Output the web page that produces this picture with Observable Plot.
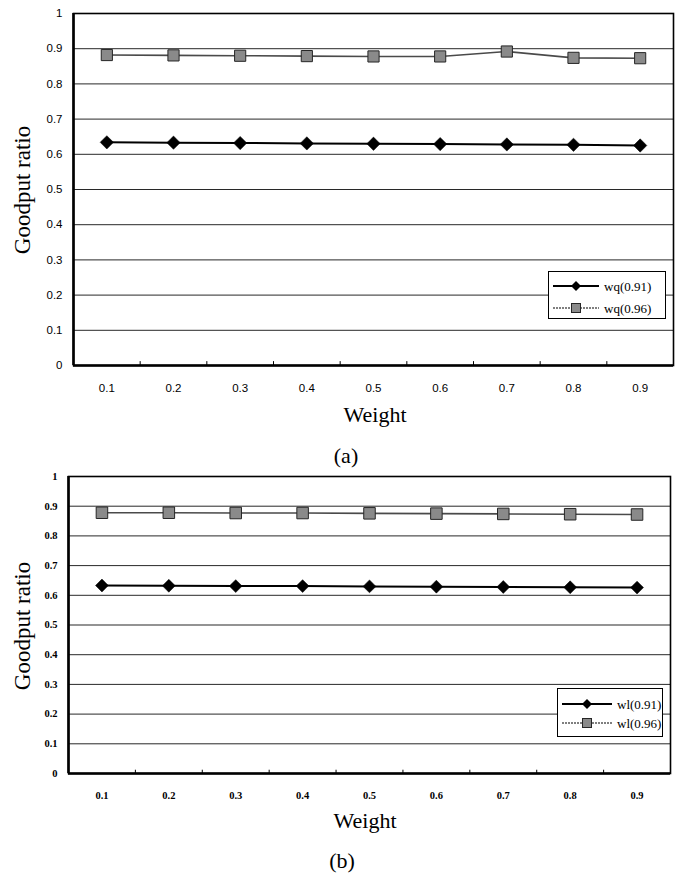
<!DOCTYPE html>
<html>
<head>
<meta charset="utf-8">
<script src="https://cdn.jsdelivr.net/npm/d3@7"></script>
<script src="https://cdn.jsdelivr.net/npm/@observablehq/plot@0.6"></script>
<style>
  body { margin: 0; background: #fff; }
  #page { position: relative; width: 683px; height: 873px; overflow: hidden; background: #fff;
          font-family: "Liberation Serif", "Times New Roman", serif; color: #000; }
  .abs { position: absolute; white-space: nowrap; line-height: 1; font-family: "Liberation Serif", "Times New Roman", serif; }
  .chart { position: absolute; left: 0; }
  .legend { position: absolute; border: 1px solid #000; background: #fff; box-sizing: border-box; }
  .legend .row { position: absolute; left: 0; height: 16px; display: flex; align-items: center; }
  .legend .row span { font-family: "Liberation Serif", serif; font-size: 13px; line-height: 1; }
</style>
</head>
<body>
<div id="page"></div>
<script>
// ---------- data ----------
const weights = [0.1, 0.2, 0.3, 0.4, 0.5, 0.6, 0.7, 0.8, 0.9];
const xTickLabels = ["0.1", "0.2", "0.3", "0.4", "0.5", "0.6", "0.7", "0.8", "0.9"];
const yTicks = [0, 0.1, 0.2, 0.3, 0.4, 0.5, 0.6, 0.7, 0.8, 0.9, 1];
const yTickLabels = ["0", "0.1", "0.2", "0.3", "0.4", "0.5", "0.6", "0.7", "0.8", "0.9", "1"];

const seriesNamesA = ["wq(0.91)", "wq(0.96)"];
const wq091 = [0.634, 0.633, 0.632, 0.631, 0.630, 0.629, 0.628, 0.627, 0.625];
const wq096 = [0.882, 0.881, 0.880, 0.879, 0.878, 0.878, 0.892, 0.874, 0.873];

const seriesNamesB = ["wl(0.91)", "wl(0.96)"];
const wl091 = [0.633, 0.632, 0.631, 0.631, 0.630, 0.629, 0.628, 0.627, 0.626];
const wl096 = [0.878, 0.878, 0.877, 0.877, 0.876, 0.875, 0.874, 0.873, 0.872];

const axisTitleX = "Weight";
const axisTitleY = "Goodput ratio";
const panelCaptions = ["(a)", "(b)"];

// ---------- drawing ----------
const page = document.getElementById("page");

function makeChart(cfg) {
  const step = weights[1] - weights[0];
  const xDomain = [weights[0] - step / 2, weights[weights.length - 1] + step / 2];
  const bounds = weights.slice(1).map((w, i) => (w + weights[i]) / 2);
  const rows1 = weights.map((w, i) => ({w, v: cfg.s1[i]}));
  const rows2 = weights.map((w, i) => ({w, v: cfg.s2[i]}));
  const yLab = d => yTickLabels[Math.round(d * 10)];
  const xLab = d => xTickLabels[Math.round(d * 10) - 1];
  return Plot.plot({
    width: 683,
    height: cfg.height,
    marginTop: cfg.mt, marginBottom: cfg.mb, marginLeft: cfg.ml, marginRight: cfg.mr,
    x: {type: "linear", domain: xDomain, label: null},
    y: {domain: [0, 1], label: null},
    style: {background: "transparent", overflow: "visible"},
    marks: [
      Plot.gridY(yTicks.slice(1, -1), {stroke: "#111", strokeOpacity: 0.9, strokeWidth: 1}),
      Plot.axisY(yTicks, {tickSize: 0, tickPadding: 11, tickFormat: yLab, label: null,
        fontFamily: cfg.tickFamily, fontSize: cfg.tickSize, fontWeight: cfg.tickWeight, fill: "#000"}),
      Plot.axisX(weights, {tickSize: 0, tickPadding: 18, tickFormat: xLab, label: null,
        fontFamily: cfg.tickFamily, fontSize: cfg.tickSize, fontWeight: cfg.tickWeight, fill: "#000"}),
      Plot.ruleX(bounds, {y1: 0, y2: 0.011, stroke: "#000", strokeWidth: 1}),
      Plot.frame({stroke: "#000", strokeWidth: 1.6}),
      Plot.ruleY([0], {stroke: "#000", strokeWidth: 2.6}),
      Plot.ruleX([xDomain[0]], {stroke: "#000", strokeWidth: 2.6}),
      Plot.line(rows2, {x: "w", y: "v", stroke: "#4a4a4a", strokeWidth: 1.6}),
      Plot.line(rows1, {x: "w", y: "v", stroke: "#000", strokeWidth: 2}),
      Plot.dot(rows2, {x: "w", y: "v", symbol: "square", r: cfg.sqR, fill: "#8a8a8a", stroke: "#262626", strokeWidth: 1}),
      Plot.dot(rows1, {x: "w", y: "v", symbol: "diamond2", r: cfg.diaR, fill: "#000", stroke: "#000", strokeWidth: 0.5})
    ]
  });
}

function addText(txt, left, top, size) {
  const d = document.createElement("div");
  d.className = "abs";
  d.textContent = txt;
  d.style.left = left + "px";
  d.style.top = top + "px";
  d.style.fontSize = size + "px";
  d.style.transform = "translateX(-50%)";
  page.appendChild(d);
  return d;
}

function addYTitle(txt, cx, cy) {
  const d = document.createElement("div");
  d.className = "abs";
  d.textContent = txt;
  d.style.left = cx + "px";
  d.style.top = cy + "px";
  d.style.fontSize = "23px";
  d.style.transform = "translate(-50%, -50%) rotate(-90deg)";
  page.appendChild(d);
}

function addLegend(names, box) {
  const L = document.createElement("div");
  L.className = "legend";
  L.style.left = box.left + "px";
  L.style.top = box.top + "px";
  L.style.width = box.width + "px";
  L.style.height = box.height + "px";
  names.forEach((name, i) => {
    const row = document.createElement("div");
    row.className = "row";
    row.style.top = (box.rows[i] - 8) + "px";
    const ns = "http://www.w3.org/2000/svg";
    const svg = document.createElementNS(ns, "svg");
    svg.setAttribute("width", box.lineW + 8);
    svg.setAttribute("height", 16);
    const line = document.createElementNS(ns, "line");
    line.setAttribute("x1", 4); line.setAttribute("x2", 4 + box.lineW);
    line.setAttribute("y1", 8); line.setAttribute("y2", 8);
    const mx = 4 + box.lineW / 2;
    if (i === 0) {
      line.setAttribute("stroke", "#000"); line.setAttribute("stroke-width", 2);
      svg.appendChild(line);
      const p = document.createElementNS(ns, "path");
      p.setAttribute("d", `M${mx},3 L${mx + 5},8 L${mx},13 L${mx - 5},8 Z`);
      p.setAttribute("fill", "#000");
      svg.appendChild(p);
    } else {
      line.setAttribute("stroke", "#555"); line.setAttribute("stroke-width", 1.5);
      line.setAttribute("stroke-dasharray", "2 1");
      svg.appendChild(line);
      const r = document.createElementNS(ns, "rect");
      r.setAttribute("x", mx - 4.5); r.setAttribute("y", 3.5);
      r.setAttribute("width", 9); r.setAttribute("height", 9);
      r.setAttribute("fill", "#8a8a8a"); r.setAttribute("stroke", "#262626"); r.setAttribute("stroke-width", 1);
      svg.appendChild(r);
    }
    row.appendChild(svg);
    const s = document.createElement("span");
    s.textContent = name;
    s.style.marginLeft = "1px";
    row.appendChild(s);
    L.appendChild(row);
  });
  page.appendChild(L);
}

// Panel (a)
const chartA = makeChart({
  s1: wq091, s2: wq096, height: 400, mt: 13, mb: 35, ml: 73, mr: 10,
  tickFamily: '"Liberation Sans", Arial, sans-serif', tickSize: 11.5, tickWeight: "normal",
  sqR: 6.3, diaR: 6
});
chartA.classList.add("chart");
chartA.style.top = "0px";
page.appendChild(chartA);

// Panel (b)
const chartB = makeChart({
  s1: wl091, s2: wl096, height: 340, mt: 10, mb: 33, ml: 68, mr: 13,
  tickFamily: '"Liberation Serif", "Times New Roman", serif', tickSize: 10.5, tickWeight: "bold",
  sqR: 6.5, diaR: 5.8
});
chartB.classList.add("chart");
chartB.style.top = "466px";
page.appendChild(chartB);

// Titles & captions
addYTitle(axisTitleY, 22, 190);
addText(axisTitleX, 375, 404, 22);
addText(panelCaptions[0], 346, 445, 22);

addYTitle(axisTitleY, 22, 626);
addText(axisTitleX, 365, 810, 22);
addText(panelCaptions[1], 342, 850, 22);

// Legends
addLegend(seriesNamesA, {left: 548, top: 271, width: 118, height: 48, rows: [14, 36], lineW: 46});
addLegend(seriesNamesB, {left: 557, top: 688, width: 106, height: 49, rows: [15, 34], lineW: 50});
</script>
</body>
</html>
